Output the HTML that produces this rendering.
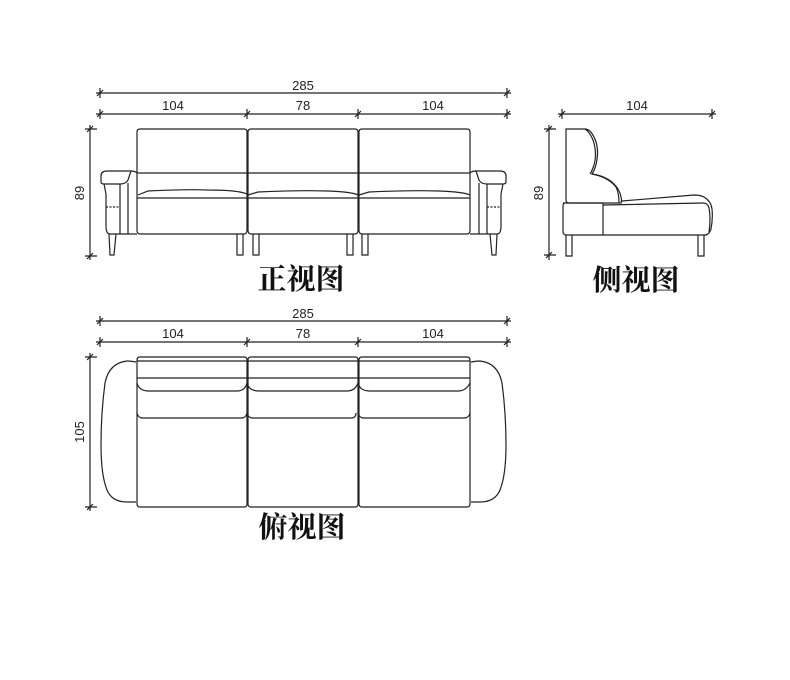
<!DOCTYPE html>
<html><head><meta charset="utf-8"><style>
html,body{margin:0;padding:0;background:#fff;}
svg{display:block;}
.d{font-family:"Liberation Sans","DejaVu Sans",sans-serif;font-size:13px;fill:#222;}
.t{font-family:"Liberation Serif","Noto Serif CJK SC",serif;font-size:29px;font-weight:bold;fill:#111;}
</style></head><body>
<svg width="790" height="680" viewBox="0 0 790 680" xmlns="http://www.w3.org/2000/svg">
<g stroke="#222" stroke-width="1.2" fill="none">
<!-- FRONT VIEW dims -->
<line x1="96" y1="93" x2="511" y2="93"/>
<line x1="96" y1="114" x2="511" y2="114"/>
<path d="M100 88v10M97 96l6-6M507 88v10M504 96l6-6"/>
<path d="M100 109v10M97 117l6-6M247 109v10M244 117l6-6M358 109v10M355 117l6-6M507 109v10M504 117l6-6"/>
<line x1="90" y1="125" x2="90" y2="260"/>
<path d="M85 129h12M87 132l6-6M85 256h12M87 259l6-6"/>
<!-- front back cushions -->
<path d="M140 129h104q3 0 3 3v98q0 4-3 4h-104q-3 0-3-4v-98q0-3 3-3z"/>
<path d="M251 129h104q3 0 3 3v98q0 4-3 4h-104q-3 0-3-4v-98q0-3 3-3z"/>
<path d="M362 129h105q3 0 3 3v98q0 4-3 4h-105q-3 0-3-4v-98q0-3 3-3z"/>
<line x1="137" y1="173" x2="470" y2="173"/>
<line x1="137" y1="198" x2="470" y2="198"/>
<path d="M138 195l10-4q40-2 60-1 30 0 39 4M248 195l10-3q40-2 70-1 25 1 30 4M359 195l10-3q40-2 70-1 25 1 31 4"/>
<!-- left arm -->
<path d="M137 173q-2-2-6-2h-24q-6 0-6 5v6q0 2 3 2l2 10v32q0 8 4 8h27"/>
<path d="M104 184h16q6 0 8 -4l3-9M120 184v50M128 183v51"/>
<path d="M106 207h14" stroke-dasharray="2 1.5"/>
<!-- right arm -->
<path d="M470 173q2-2 6-2h24q6 0 6 5v6q0 2-3 2l-2 10v32q0 8-4 8h-27"/>
<path d="M503 184h-16q-6 0-8-4l-3-9M487 184v50M479 183v51"/>
<path d="M487 207h14" stroke-dasharray="2 1.5"/>
<!-- legs -->
<path d="M109 234l1 21h4l2-21"/>
<path d="M237 234v21h6v-21M253 234v21h6v-21M347 234v21h6v-21M362 234v21h6v-21"/>
<path d="M490 234l2 21h4l1-21"/>

<!-- SIDE VIEW -->
<line x1="558" y1="114" x2="716" y2="114"/>
<path d="M562 109v10M559 117l6-6M712 109v10M709 117l6-6"/>
<line x1="549" y1="125" x2="549" y2="260"/>
<path d="M544 129h12M546 132l6-6M544 255h12M546 258l6-6"/>
<!-- back -->
<path d="M566 129h19q5 0 9 8 5 10 3 22-1 9-5 15 14 2 22 10 6 6 7 13 1 4 0 6h-52q-3 0-3-3v-68q0-3 0-3z"/>
<path d="M585 129q6 4 9 14 3 12 0 22-2 6-4 9"/>
<path d="M592 174q16 3 24 13 3 6 3 16"/>
<!-- base -->
<path d="M565 203q-2 0-2 4v25q0 3 4 3h138q4 0 6-6 2-10 1-20-1-8-8-12-4-2-10-2l-72 6"/>
<path d="M603 203v32M603 205l100-2q5 0 6 5 2 10 0 24"/>
<path d="M563 203h40"/>
<path d="M566 235v21h6v-21M698 235v21h6v-21"/>

<!-- TOP VIEW dims -->
<line x1="96" y1="321" x2="511" y2="321"/>
<line x1="96" y1="342" x2="511" y2="342"/>
<path d="M100 316v10M97 324l6-6M507 316v10M504 324l6-6"/>
<path d="M100 337v10M97 345l6-6M247 337v10M244 345l6-6M358 337v10M355 345l6-6M507 337v10M504 345l6-6"/>
<line x1="90" y1="353" x2="90" y2="511"/>
<path d="M85 357h12M87 360l6-6M85 507h12M87 510l6-6"/>
<!-- top view seats -->
<path d="M140 357h104q3 0 3 3v144q0 3-3 3h-104q-3 0-3-3v-144q0-3 3-3z"/>
<path d="M251 357h104q3 0 3 3v144q0 3-3 3h-104q-3 0-3-3v-144q0-3 3-3z"/>
<path d="M362 357h105q3 0 3 3v144q0 3-3 3h-105q-3 0-3-3v-144q0-3 3-3z"/>
<line x1="137" y1="361" x2="470" y2="361"/>
<line x1="137" y1="378" x2="470" y2="378"/>
<path d="M137 383q2 8 12 8h88q8 0 10-8M247 383q2 8 12 8h88q8 0 11-8M358 383q2 8 12 8h88q8 0 12-8"/>
<path d="M137 413q1 5 6 5h98q5 0 6-5M247 413q1 5 6 5h98q5 0 5-5M358 413q1 5 6 5h100q5 0 6-5"/>
<!-- arms -->
<path d="M136 362q-5-1-9-1-18 2-22 22-4 30-4 62 0 30 6 45 5 12 20 12h9"/>
<path d="M471 362q5-1 9-1 18 2 22 22 4 30 4 62 0 30-6 45-5 12-20 12h-9"/>
</g>
<text class="d" x="303" y="90" text-anchor="middle">285</text>
<text class="d" x="173" y="110" text-anchor="middle">104</text>
<text class="d" x="303" y="110" text-anchor="middle">78</text>
<text class="d" x="433" y="110" text-anchor="middle">104</text>
<text class="d" transform="translate(84 193) rotate(-90)" text-anchor="middle">89</text>
<text class="d" x="637" y="110" text-anchor="middle">104</text>
<text class="d" transform="translate(543 193) rotate(-90)" text-anchor="middle">89</text>
<text class="d" x="303" y="318" text-anchor="middle">285</text>
<text class="d" x="173" y="338" text-anchor="middle">104</text>
<text class="d" x="303" y="338" text-anchor="middle">78</text>
<text class="d" x="433" y="338" text-anchor="middle">104</text>
<text class="d" transform="translate(84 432) rotate(-90)" text-anchor="middle">105</text>
<text class="t" x="301" y="289" text-anchor="middle">正视图</text>
<text class="t" x="636" y="290" text-anchor="middle">侧视图</text>
<text class="t" x="302" y="537" text-anchor="middle">俯视图</text>
</svg>
</body></html>
